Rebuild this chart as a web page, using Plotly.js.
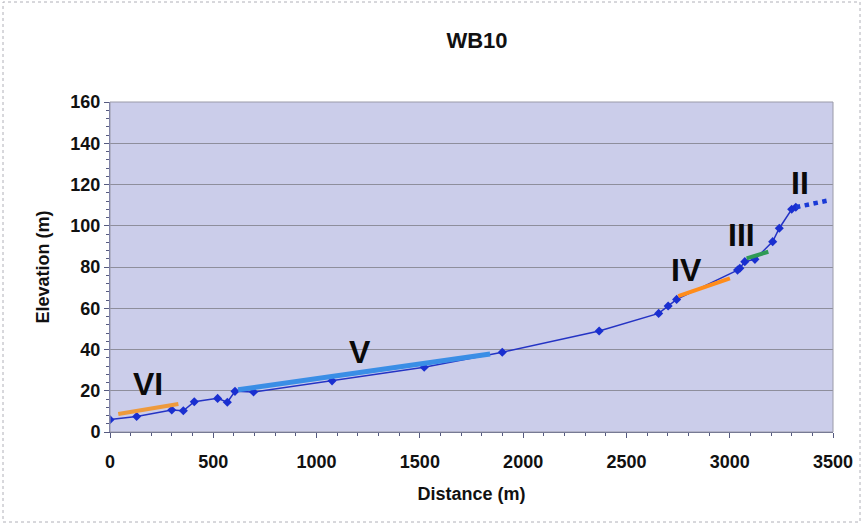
<!DOCTYPE html>
<html>
<head>
<meta charset="utf-8">
<script src="https://cdn.plot.ly/plotly-3.0.1.min.js"></script>
<style>html,body{margin:0;padding:0;background:#fff;}#chart{width:863px;height:524px;}</style>
</head>
<body>
<div id="chart"></div>
<script>
// Survey profile WB10
const distance = [0, 129, 299, 355, 408, 521, 568, 605, 695, 1075, 1521, 1899, 2368, 2656, 2702, 2743, 3038, 3049, 3073, 3122, 3208, 3240, 3300, 3320];
const elevation = [6.0, 7.5, 10.7, 10.3, 14.7, 16.3, 14.4, 19.7, 19.4, 24.8, 31.4, 38.7, 49.0, 57.5, 61.1, 64.3, 78.5, 79.4, 82.6, 83.7, 92.3, 98.8, 108.0, 109.0];

// Terrace segments
const segVI_x = [40, 331],   segVI_y = [8.7, 13.6];
const segV_x = [620, 1840],  segV_y = [20.5, 37.8];
const segIV_x = [2751, 3001], segIV_y = [65.9, 74.5];
const segIII_x = [3082, 3187], segIII_y = [84.2, 87.4];
const segII_x = [3320, 3469], segII_y = [109.0, 112.1];

const labels = ["VI", "V", "IV", "III", "II"];
const labelX = [184, 1210, 2790, 3055, 3340];
const labelY = [23.5, 39.0, 78.5, 95.5, 120.5];

const font = "Liberation Sans, Arial, sans-serif";

const traces = [
  {x: distance, y: elevation, mode: "lines+markers", type: "scatter",
   line: {color: "#2433c4", width: 1.5},
   marker: {symbol: "diamond", size: 7, color: "#1a2fd0"}, hoverinfo: "skip"},
  {x: segVI_x, y: segVI_y, mode: "lines", line: {color: "#ee9a3c", width: 4}},
  {x: segV_x, y: segV_y, mode: "lines", line: {color: "#3a8ee6", width: 5}},
  {x: segIV_x, y: segIV_y, mode: "lines", line: {color: "#ff8c1a", width: 4}},
  {x: segIII_x, y: segIII_y, mode: "lines", line: {color: "#2f9a55", width: 4}},
  {x: segII_x, y: segII_y, mode: "lines", line: {color: "#1a3ad6", width: 4.5, dash: "dot"}}
];

const annotations = labels.map((t, i) => ({
  x: labelX[i], y: labelY[i], xref: "x", yref: "y", text: "<b>" + t + "</b>", showarrow: false,
  font: {family: font, size: 32, color: "#0a0a0a"}
}));

const layout = {
  width: 863, height: 524,
  margin: {l: 110, r: 30, t: 102, b: 92},
  paper_bgcolor: "#ffffff",
  plot_bgcolor: "#cbcdea",
  showlegend: false,
  title: {text: "<b>WB10</b>", x: 438 / 863, xref: "paper", xanchor: "center",
          y: 1 - 40 / 524, yref: "container", yanchor: "middle",
          font: {family: font, size: 22, color: "#111"}},
  xaxis: {
    range: [0, 3500], dtick: 500, tick0: 0,
    showgrid: false, zeroline: false,
    showline: true, linecolor: "#555a80", linewidth: 1,
    ticks: "outside", ticklen: 5, tickcolor: "#555a80",
    ticklabelstandoff: 8,
    minor: {dtick: 100, ticks: "outside", ticklen: 3, tickcolor: "#555a80"},
    tickfont: {family: font, size: 18, color: "#111", weight: "bold"},
    title: {text: "<b>Distance (m)</b>", font: {family: font, size: 18, color: "#111"}, standoff: 16}
  },
  yaxis: {
    range: [0, 160], dtick: 20, tick0: 0,
    showgrid: true, gridcolor: "#8e8e9c", gridwidth: 1,
    zeroline: false,
    showline: true, linecolor: "#6a70a8", linewidth: 1,
    ticks: "outside", ticklen: 5, tickcolor: "#555a80",
    minor: {dtick: 4, ticks: "outside", ticklen: 3, tickcolor: "#555a80"},
    tickfont: {family: font, size: 18, color: "#111", weight: "bold"},
    title: {text: "<b>Elevation (m)</b>", font: {family: font, size: 18, color: "#111"}, standoff: 16}
  },
  annotations: annotations,
  shapes: [
    {type: "rect", xref: "paper", yref: "paper", x0: 0, x1: 1, y0: 0, y1: 1,
     line: {color: "#9a9aa8", width: 1}, fillcolor: "rgba(0,0,0,0)"},
    {type: "rect", xref: "paper", yref: "paper", x0: -107 / 723, x1: 1 + 27 / 723, y0: -90 / 330, y1: 1 + 100 / 330,
     line: {color: "#b0b0b8", width: 1, dash: "dot"}, fillcolor: "rgba(0,0,0,0)"}
  ]
};

Plotly.newPlot("chart", traces, layout, {displayModeBar: false, staticPlot: true});
</script>
</body>
</html>
